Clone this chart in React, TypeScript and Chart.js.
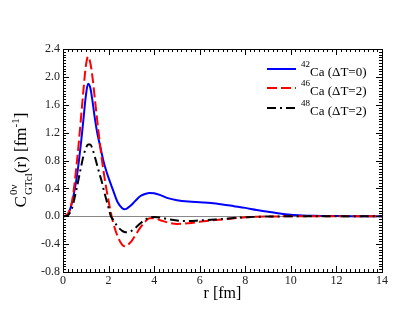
import React, { useEffect, useRef } from "react";
import { Chart, registerables } from "chart.js";

Chart.register(...registerables);

const rValues = [0, 0.2, 0.4, 0.5, 0.6, 0.7, 0.8, 0.9, 1.0, 1.1, 1.2, 1.3, 1.4, 1.5, 1.6, 1.7, 1.8, 1.9, 2.0, 2.1, 2.2, 2.4, 2.6, 2.7, 2.8, 3.0, 3.2, 3.4, 3.6, 3.8, 4.0, 4.3, 4.6, 5.0, 5.5, 6.0, 6.5, 7.0, 7.5, 8.0, 8.5, 9.0, 9.5, 10.0, 10.5, 11.0, 12.0, 13.0, 14.0];

const ca42 = [0, 0.02, 0.2, 0.36, 0.55, 0.8, 1.08, 1.4, 1.72, 1.9, 1.84, 1.64, 1.4, 1.2, 1.05, 0.9, 0.76, 0.65, 0.55, 0.46, 0.37, 0.2, 0.115, 0.1, 0.11, 0.16, 0.23, 0.29, 0.32, 0.335, 0.33, 0.3, 0.26, 0.23, 0.21, 0.2, 0.19, 0.17, 0.145, 0.12, 0.09, 0.065, 0.04, 0.022, 0.012, 0.006, 0.002, 0.001, 0];

const ca46 = [0, 0.03, 0.22, 0.45, 0.75, 1.08, 1.45, 1.82, 2.15, 2.29, 2.2, 1.98, 1.68, 1.38, 1.1, 0.83, 0.6, 0.4, 0.22, 0.05, -0.09, -0.29, -0.41, -0.43, -0.42, -0.36, -0.26, -0.16, -0.08, -0.03, -0.03, -0.06, -0.09, -0.11, -0.1, -0.08, -0.06, -0.045, -0.03, -0.015, -0.008, -0.004, -0.002, 0, 0, 0, 0, 0, 0];

const ca48 = [0, 0.01, 0.12, 0.25, 0.4, 0.56, 0.72, 0.87, 0.97, 1.03, 1.03, 0.96, 0.85, 0.73, 0.61, 0.5, 0.36, 0.24, 0.12, 0.0, -0.05, -0.15, -0.21, -0.225, -0.23, -0.21, -0.16, -0.1, -0.05, -0.02, -0.01, -0.02, -0.04, -0.06, -0.07, -0.06, -0.05, -0.04, -0.025, -0.015, -0.008, -0.004, -0.002, 0, 0, 0, 0, 0, 0];

const seriesMass = ["42", "46", "48"];
const seriesLabel = ["Ca (\u0394T=0)", "Ca (\u0394T=2)", "Ca (\u0394T=2)"];
const seriesColor = ["#0000ff", "#ff0000", "#000000"];
const seriesDash: number[][] = [[], [10, 4], [9, 4, 2, 4]];
const seriesValues = [ca42, ca46, ca48];

const xTickStep = 2;
const yTickStep = 0.4;
const xMin = 0, xMax = 14, yMin = -0.8, yMax = 2.4;

const SERIF = "'Liberation Serif', 'DejaVu Serif', serif";

const decorPlugin = {
  id: "decor",
  beforeDatasetsDraw(chart: any) {
    const { ctx, chartArea, scales } = chart;
    const y0 = scales.y.getPixelForValue(0);
    ctx.save();
    ctx.strokeStyle = "#888888";
    ctx.lineWidth = 1;
    ctx.beginPath();
    ctx.moveTo(chartArea.left, Math.round(y0) + 0.5);
    ctx.lineTo(chartArea.right, Math.round(y0) + 0.5);
    ctx.stroke();
    ctx.restore();
  },
  afterDraw(chart: any) {
    const { ctx, chartArea, scales } = chart;
    const { left, right, top, bottom } = chartArea;
    ctx.save();
    // frame
    ctx.strokeStyle = "#000";
    ctx.lineWidth = 1;
    ctx.strokeRect(Math.round(left) + 0.5, Math.round(top) + 0.5, Math.round(right - left), Math.round(bottom - top));
    // x ticks (inward, top & bottom)
    ctx.beginPath();
    const nx = Math.round((xMax - xMin) / (xTickStep / 10));
    for (let i = 0; i <= nx; i++) {
      const v = xMin + i * (xTickStep / 10);
      const px = Math.round(scales.x.getPixelForValue(v)) + 0.5;
      const len = i % 10 === 0 ? 6 : 3;
      ctx.moveTo(px, bottom);
      ctx.lineTo(px, bottom - len);
      ctx.moveTo(px, top);
      ctx.lineTo(px, top + len);
    }
    const ny = Math.round((yMax - yMin) / (yTickStep / 10));
    for (let i = 0; i <= ny; i++) {
      const v = yMin + i * (yTickStep / 10);
      const py = Math.round(scales.y.getPixelForValue(v)) + 0.5;
      const len = i % 10 === 0 ? 6 : 3;
      ctx.moveTo(left, py);
      ctx.lineTo(left + len, py);
      ctx.moveTo(right, py);
      ctx.lineTo(right - len, py);
    }
    ctx.stroke();

    // x title
    ctx.fillStyle = "#000";
    ctx.font = `16px ${SERIF}`;
    ctx.textAlign = "center";
    ctx.textBaseline = "alphabetic";
    ctx.fillText("r [fm]", (left + right) / 2, 298);

    // y title (rotated, with sub/superscripts)
    ctx.save();
    ctx.translate(26, 160);
    ctx.rotate(-Math.PI / 2);
    ctx.textAlign = "left";
    const big = `17px ${SERIF}`;
    const small = `11px ${SERIF}`;
    const parts: { t: string; f: string; dy: number; stackNext?: boolean }[] = [
      { t: "C", f: big, dy: 0 },
      { t: "0\u03bd", f: small, dy: -9, stackNext: true },
      { t: "GTcl", f: small, dy: 6 },
      { t: "(r) [fm", f: big, dy: 0 },
      { t: "-1", f: small, dy: -7 },
      { t: "]", f: big, dy: 0 },
    ];
    // measure
    let total = 0;
    for (let i = 0; i < parts.length; i++) {
      const p = parts[i];
      ctx.font = p.f;
      const w = ctx.measureText(p.t).width;
      if (p.stackNext) {
        ctx.font = parts[i + 1].f;
        const w2 = ctx.measureText(parts[i + 1].t).width;
        total += Math.max(w, w2) + 1;
        i++;
      } else total += w;
    }
    let cx = -total / 2;
    for (let i = 0; i < parts.length; i++) {
      const p = parts[i];
      ctx.font = p.f;
      const w = ctx.measureText(p.t).width;
      if (p.stackNext) {
        ctx.fillText(p.t, cx + 1, p.dy);
        const q = parts[i + 1];
        ctx.font = q.f;
        const w2 = ctx.measureText(q.t).width;
        ctx.fillText(q.t, cx + 1, q.dy);
        cx += Math.max(w, w2) + 1;
        i++;
      } else {
        ctx.fillText(p.t, cx, p.dy);
        cx += w;
      }
    }
    ctx.restore();

    // legend
    const lx0 = 267, lx1 = 296;
    const ly = [69, 88, 108];
    for (let i = 0; i < 3; i++) {
      ctx.save();
      ctx.strokeStyle = seriesColor[i];
      ctx.lineWidth = 2;
      ctx.setLineDash(seriesDash[i]);
      ctx.beginPath();
      ctx.moveTo(lx0, ly[i]);
      ctx.lineTo(lx1, ly[i]);
      ctx.stroke();
      ctx.restore();
      ctx.fillStyle = "#000";
      ctx.textAlign = "left";
      ctx.font = `9px ${SERIF}`;
      ctx.fillText(seriesMass[i], 301, ly[i] - 2);
      const mw = ctx.measureText(seriesMass[i]).width;
      ctx.font = `13px ${SERIF}`;
      ctx.fillText(seriesLabel[i], 301 + mw, ly[i] + 7);
    }
    ctx.restore();
  },
};

export default function App() {
  const ref = useRef<HTMLCanvasElement | null>(null);
  useEffect(() => {
    if (!ref.current) return;
    const datasets = seriesValues.map((vals, i) => ({
      label: seriesMass[i] + seriesLabel[i],
      data: rValues.map((r, j) => ({ x: r, y: vals[j] })),
      borderColor: seriesColor[i],
      borderWidth: 2,
      borderDash: seriesDash[i],
      pointRadius: 0,
      fill: false,
      cubicInterpolationMode: "monotone" as const,
      order: 3 - i,
    }));
    const chart = new Chart(ref.current, {
      type: "line",
      data: { datasets },
      options: {
        animation: false,
        responsive: false,
        devicePixelRatio: 1,
        layout: { padding: { left: 0, top: 49, right: 33, bottom: 0 } },
        plugins: { legend: { display: false }, tooltip: { enabled: false } },
        scales: {
          x: {
            type: "linear",
            min: xMin,
            max: xMax,
            grid: { display: false, drawTicks: false },
            border: { display: false },
            ticks: {
              stepSize: xTickStep,
              padding: 2,
              color: "#222",
              font: { family: SERIF, size: 12 },
              maxRotation: 0,
            },
            afterFit: (s: any) => {
              s.height = 49;
            },
          },
          y: {
            type: "linear",
            min: yMin,
            max: yMax,
            grid: { display: false, drawTicks: false },
            border: { display: false },
            ticks: {
              stepSize: yTickStep,
              padding: 3,
              color: "#222",
              font: { family: SERIF, size: 12 },
              callback: (v: any) => Number(v).toFixed(1),
            },
            afterFit: (s: any) => {
              s.width = 63;
            },
          },
        },
      },
      plugins: [decorPlugin],
    });
    return () => chart.destroy();
  }, []);
  return (
    <div style={{ position: "fixed", left: 0, top: 0, width: 415, height: 321, background: "#fff" }}>
      <canvas ref={ref} width={415} height={321} style={{ width: 415, height: 321 }} />
    </div>
  );
}
